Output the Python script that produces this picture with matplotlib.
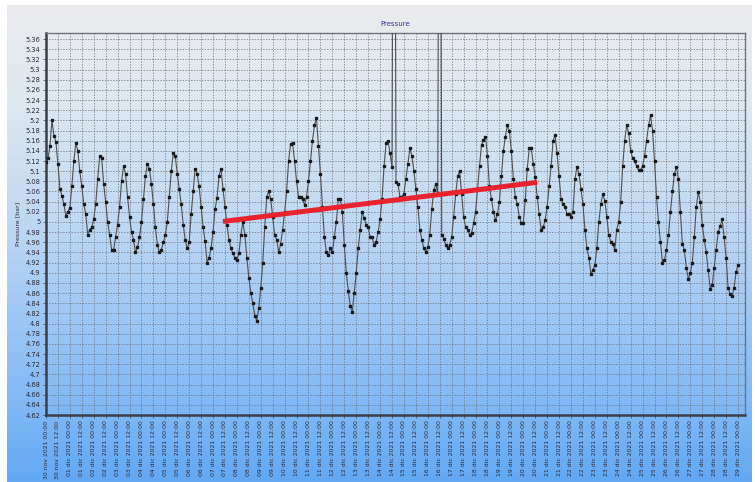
import numpy as np
import pandas as pd
import matplotlib
matplotlib.use("Agg")
import matplotlib.pyplot as plt
import matplotlib.dates as mdates
from matplotlib.ticker import FuncFormatter, FixedLocator

plt.rcParams["font.family"] = ["DejaVu Sans"]

# Pressure readings every 2 hours starting 30 nov 2021 00:00 (bar)
start = pd.Timestamp("2021-11-30 00:00")
step_h = 2
spike = 6.5  # out-of-range readings

pressure = [
    # 30 nov - 07 dic
    5.118, 5.125, 5.15, 5.2, 5.17, 5.157, 5.115, 5.065, 5.052, 5.035, 5.012, 5.02,
    5.028, 5.07, 5.12, 5.155, 5.14, 5.1, 5.07, 5.035, 5.015, 4.975, 4.985, 4.99,
    5.005, 5.035, 5.085, 5.13, 5.125, 5.075, 5.04, 5.0, 4.975, 4.945, 4.945, 4.97,
    4.995, 5.03, 5.08, 5.11, 5.095, 5.05, 5.01, 4.98, 4.965, 4.94, 4.95, 4.97,
    5.0, 5.045, 5.09, 5.115, 5.105, 5.075, 5.035, 4.99, 4.955, 4.94, 4.945, 4.96,
    4.975, 5.0, 5.05, 5.1, 5.135, 5.13, 5.095, 5.065, 5.035, 4.995, 4.965, 4.948,
    4.96, 5.015, 5.06, 5.105, 5.095, 5.07, 5.03, 4.99, 4.962, 4.92, 4.93, 4.948,
    4.98, 5.025, 5.048, 5.09,
    # 07 dic 08:00 - 14 dic 10:00
    5.105, 5.065, 5.03, 4.995, 4.965, 4.948, 4.938, 4.93, 4.925, 4.938, 4.975, 5.0,
    4.975, 4.93, 4.89, 4.86, 4.84, 4.815, 4.806, 4.83, 4.87, 4.92, 4.99, 5.05,
    5.06, 5.045, 5.01, 4.974, 4.965, 4.94, 4.957, 4.985, 5.02, 5.06, 5.12, 5.154,
    5.155, 5.12, 5.08, 5.05, 5.05, 5.046, 5.033, 5.05, 5.08, 5.12, 5.16, 5.19,
    5.205, 5.15, 5.095, 5.03, 4.97, 4.94, 4.935, 4.948, 4.94, 4.97, 5.0, 5.045,
    5.045, 5.02, 4.955, 4.9, 4.865, 4.835, 4.822, 4.86, 4.9, 4.948, 4.985, 5.02,
    5.008, 4.995, 4.99, 4.97, 4.97, 4.955, 4.96, 4.98, 5.005, 5.046, 5.11, 5.155,
    5.16, 5.135,
    # 14 dic 12:00 - 21 dic 22:00
    5.108, spike, 5.079, 5.075, 5.049, 5.049, 5.056, 5.085, 5.115, 5.145, 5.13, 5.1,
    5.065, 5.03, 4.985, 4.965, 4.948, 4.941, 4.95, 4.975, 5.025, 5.062, 5.075, 5.055,
    spike, 4.975, 4.967, 4.955, 4.948, 4.955, 4.97, 5.01, 5.055, 5.09, 5.1, 5.055,
    5.01, 4.99, 4.985, 4.975, 4.978, 4.997, 5.02, 5.065, 5.11, 5.152, 5.161, 5.168,
    5.13, 5.07, 5.045, 5.02, 5.003, 5.015, 5.04, 5.09, 5.14, 5.168, 5.19, 5.18,
    5.14, 5.085, 5.049, 5.035, 5.01, 4.998, 4.998, 5.043, 5.105, 5.145, 5.145, 5.115,
    5.089, 5.05, 5.015, 4.985, 4.99, 5.003, 5.03, 5.07, 5.11, 5.16, 5.171, 5.135,
    5.09, 5.045, 5.036, 5.03, 5.015, 5.016,
    # 22 dic 00:00 - 29 dic 00:00
    5.01, 5.02, 5.085, 5.108, 5.095, 5.065, 5.035, 4.985, 4.948, 4.93, 4.898, 4.905,
    4.915, 4.948, 5.0, 5.035, 5.055, 5.042, 5.01, 4.975, 4.961, 4.957, 4.945, 4.985,
    5.0, 5.04, 5.11, 5.16, 5.19, 5.175, 5.14, 5.125, 5.12, 5.11, 5.102, 5.102,
    5.11, 5.13, 5.16, 5.19, 5.21, 5.18, 5.12, 5.05, 5.0, 4.96, 4.92, 4.925,
    4.945, 4.974, 5.02, 5.06, 5.095, 5.108, 5.085, 5.02, 4.957, 4.945, 4.91, 4.888,
    4.9, 4.92, 4.97, 5.03, 5.059, 5.04, 4.995, 4.965, 4.94, 4.905, 4.869, 4.875,
    4.91, 4.945, 4.98, 4.992, 5.005, 4.97, 4.93, 4.87, 4.859, 4.855, 4.87, 4.902,
    4.915,
]

times = start + pd.to_timedelta(np.arange(len(pressure)) * step_h, unit="h")

# trend line
trend_t = [pd.Timestamp("2021-12-07 10:00"), pd.Timestamp("2021-12-20 14:00")]
trend_p = [5.001, 5.078]

y_ticks = np.round(np.arange(4.62, 5.3601, 0.02), 2)
meses = {11: "nov", 12: "dic"}

fig = plt.figure(figsize=(7.55, 4.82), dpi=100)
fig.patch.set_facecolor("white")

# gradient panel behind everything
bg = fig.add_axes([7 / 755, 0, 745 / 755, 477 / 482], zorder=-2)
rows = np.linspace(0, 1, 256)
stops = [0.0, 0.2, 0.45, 0.65, 0.85, 1.0]
r = np.interp(rows, stops, [0.92, 0.87, 0.75, 0.62, 0.50, 0.38])
g = np.interp(rows, stops, [0.92, 0.91, 0.85, 0.78, 0.72, 0.66])
b = np.interp(rows, stops, [0.93, 0.94, 0.95, 0.96, 0.96, 0.95])
grad = np.dstack([r, g, b]).reshape(256, 1, 3)
bg.imshow(grad, aspect="auto", extent=[0, 1, 0, 1])
bg.axis("off")

ax = fig.add_axes([46 / 755, 1 - 415 / 482, 699 / 755, 382 / 482])
ax.set_facecolor("none")

ax.plot(times, pressure, color="#505050", lw=0.8, marker="s", ms=1.6,
        mfc="#1a1a1a", mec="#1a1a1a", zorder=3)
ax.plot(trend_t, trend_p, color="#e8232b", lw=3.6, solid_capstyle="butt", zorder=4)

ax.set_ylim(4.62, 5.372)
ax.set_xlim(start, start + pd.Timedelta(hours=703))

ax.yaxis.set_major_locator(FixedLocator(y_ticks))
ax.yaxis.set_major_formatter(FuncFormatter(lambda v, p: f"{round(v, 2):g}"))

ax.xaxis.set_major_locator(mdates.HourLocator(byhour=[0, 12]))


def fecha(x, pos):
    d = mdates.num2date(x)
    return f"{d.day:02d} {meses[d.month]} {d.year} {d:%H:%M}"


ax.xaxis.set_major_formatter(FuncFormatter(fecha))
plt.setp(ax.get_xticklabels(), rotation=90, ha="center", va="top")

ax.tick_params(axis="both", labelsize=4.4, length=2, width=0.5, color="#404040",
               labelcolor="#2a2a3a", pad=2)
ax.tick_params(axis="y", labelsize=4.8)

ax.grid(True, ls=(0, (2, 2)), lw=0.5, color="#6a6e7a")

for side in ["left", "bottom"]:
    ax.spines[side].set_linewidth(1.8)
    ax.spines[side].set_color("#3a3f4a")
for side in ["top", "right"]:
    ax.spines[side].set_linewidth(1.0)
    ax.spines[side].set_color("#70747c")

ax.set_title("Pressure", fontsize=5, color="#34348a", pad=5)
ax.set_ylabel("Pressure [bar]", fontsize=4.5, color="#2a2a3a", labelpad=4)

fig.savefig("out.png", dpi=100)
